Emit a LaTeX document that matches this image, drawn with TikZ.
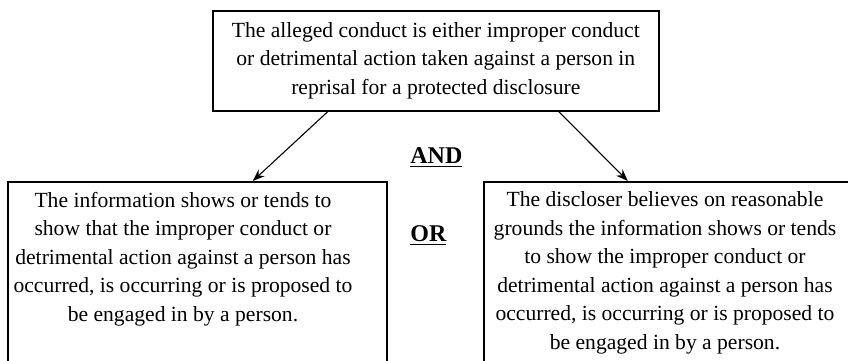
\documentclass[tikz,border=0pt]{standalone}
\usepackage{fontspec}
\setmainfont{Liberation Serif}
\usepackage{tikz}
\usetikzlibrary{arrows.meta}
\usetikzlibrary{positioning}

\tikzset{
  box/.style={draw=black,line width=0.8pt,shape=rectangle,anchor=north west,inner sep=0pt},
  para/.style={align=center,inner sep=0pt,font=\fontsize{10.8}{14.25}\selectfont},
  joinword/.style={anchor=west,inner sep=0pt,font=\fontsize{12}{14}\selectfont\bfseries},
  arrowline/.style={line width=0.55pt,-{Stealth[length=6pt,width=4.5pt]}}
}

\begin{document}
\begin{tikzpicture}[x=0.5pt,y=-0.5pt]
  \clip (0,0) rectangle (848,360);
  % the three boxes
  \node[box,minimum width=223pt,minimum height=50pt,para,anchor=north west] (top) at (212,10)
    {The alleged conduct is either improper conduct\\or detrimental action taken against a person in\\reprisal for a protected disclosure};
  \node[box,minimum width=189.5pt,minimum height=95pt] (leftbox) at (7,181) {};
  \node[box,minimum width=183.5pt,minimum height=95pt] (rightbox) at (483,181) {};
  \node[para] (lefttext) at (183,259)
    {The information shows or tends to\\show that the improper conduct or\\detrimental action against a person has\\occurred, is occurring or is proposed to\\be engaged in by a person.};
  \node[para] (righttext) at (665,273)
    {The discloser believes on reasonable\\grounds the information shows or tends\\to show the improper conduct or\\detrimental action against a person has\\occurred, is occurring or is proposed to\\be engaged in by a person.};
  \node[joinword] (and) at (410,158) {\underline{AND}};
  \node[joinword] (or) at (410,236) {\underline{OR}};
  % arrows
  \draw[arrowline] ([xshift=-54pt]top.south) -- ([xshift=27.75pt]leftbox.north);
  \draw[arrowline] ([xshift=61.5pt]top.south) -- ([xshift=-19.75pt]rightbox.north);
\end{tikzpicture}
\end{document}
